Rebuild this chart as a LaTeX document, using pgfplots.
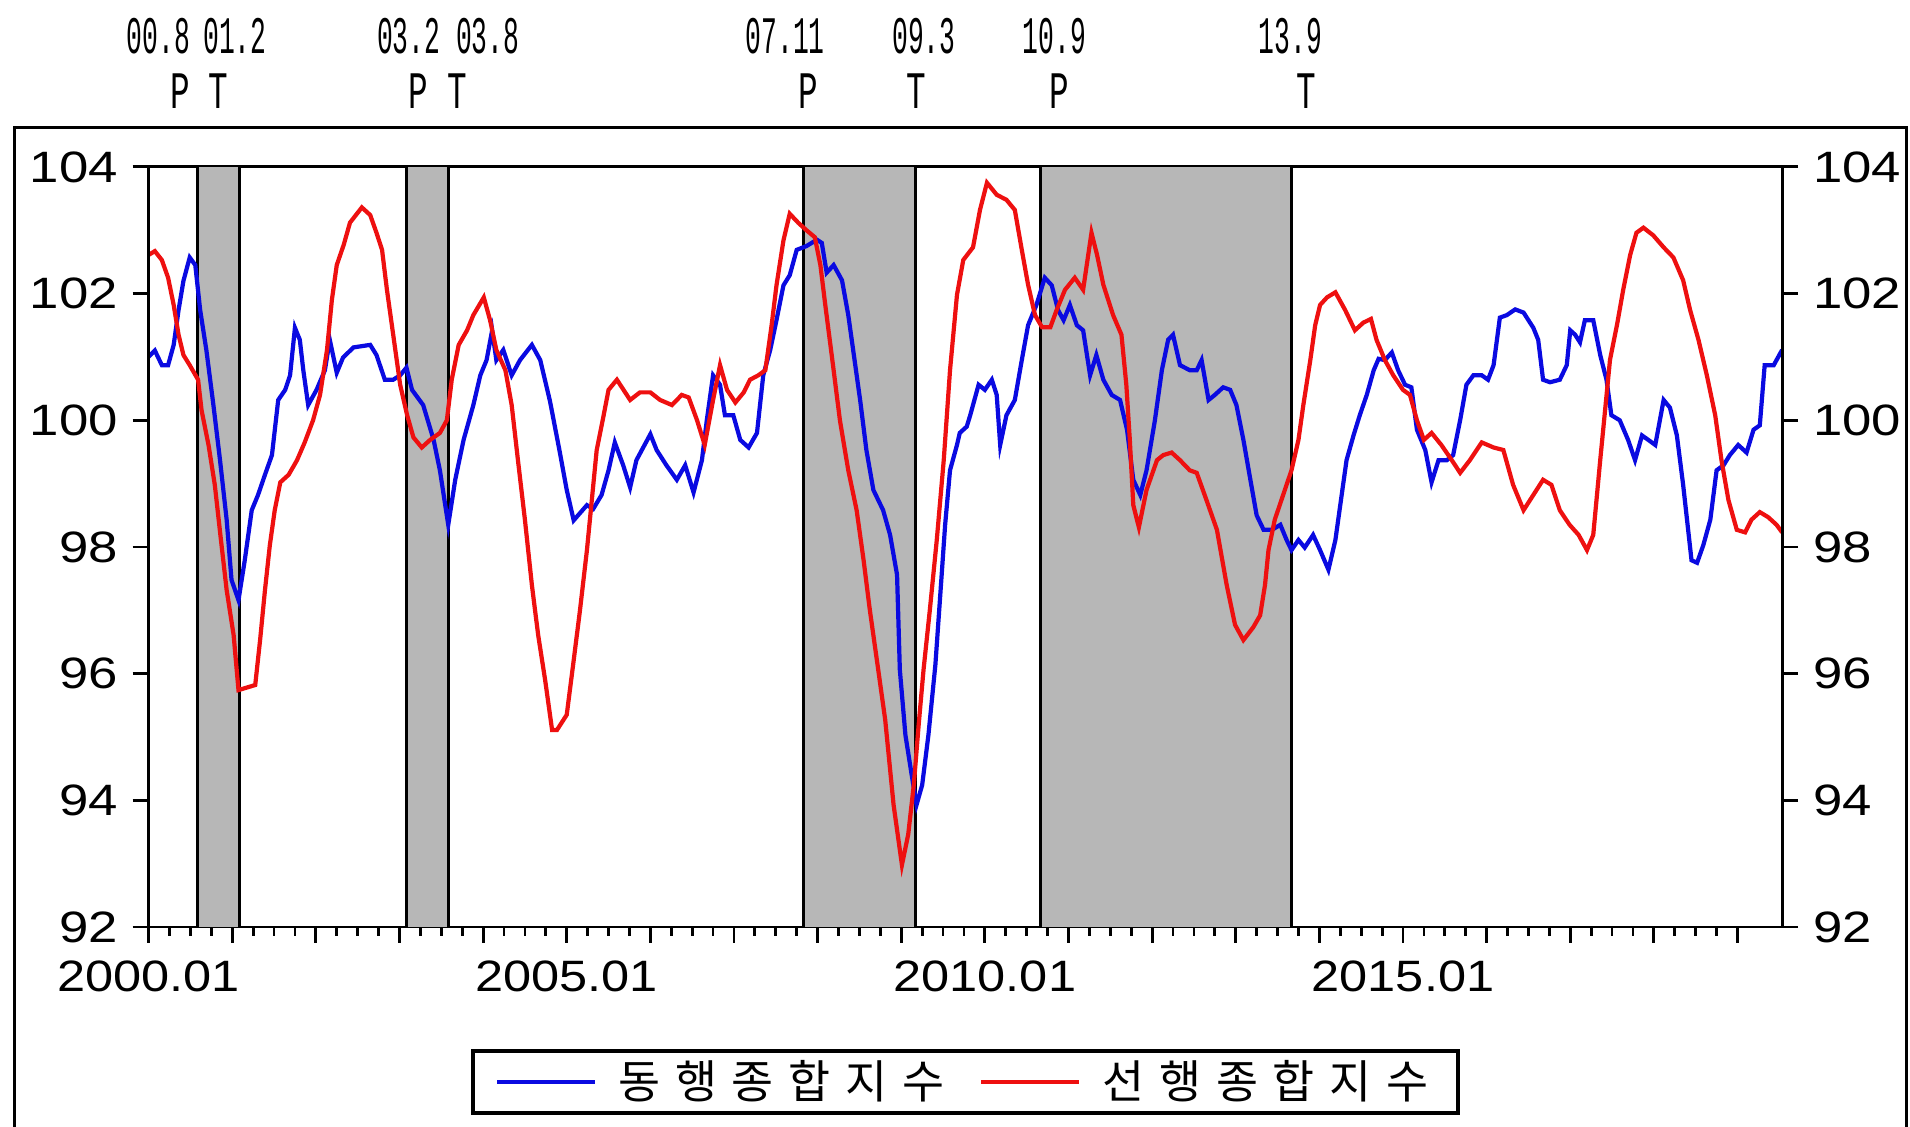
\documentclass[border=0pt]{standalone}
\usepackage{fontspec}
\setmainfont{Liberation Sans}
\newfontfamily\kr{Noto Sans CJK KR}
\newfontfamily\cour{Liberation Mono}
\usepackage{pgfplots}
\pgfplotsset{compat=1.18}
\definecolor{shade}{RGB}{183,183,183}
\definecolor{lblue}{RGB}{10,10,225}
\definecolor{lred}{RGB}{238,16,16}
\newcommand\lsp{\hspace{4.2pt}}
\pgfplotstableread{
x y
0 101.0
0.9 101.1
1.9 100.87
2.8 100.87
3.6 101.19
4.3 101.74
5 102.2
5.9 102.57
6.7 102.45
7.4 101.74
8.3 101.1
9.3 100.24
10.25 99.37
11.2 98.43
11.9 97.48
12.9 97.16
13.8 97.79
14.8 98.58
15.7 98.82
16.7 99.14
17.7 99.45
18.6 100.32
19.6 100.48
20.3 100.71
21 101.46
21.7 101.27
22.2 100.79
22.9 100.24
24.1 100.48
25.3 100.79
26 101.27
27 100.75
27.9 100.99
29.4 101.15
31.8 101.19
32.7 101.03
33.9 100.64
35.1 100.64
36.1 100.71
37 100.83
37.8 100.48
39.4 100.24
40.9 99.69
41.8 99.21
43 98.35
44 99.06
45.2 99.69
46.6 100.24
47.6 100.71
48.5 100.95
49.3 101.42
49.9 100.95
50.9 101.11
52.1 100.71
53.3 100.95
55 101.19
56.2 100.95
57.6 100.3
59 99.5
60 98.9
61 98.42
62.9 98.66
63.8 98.6
65 98.82
66 99.21
66.9 99.65
68.1 99.29
69.1 98.94
70 99.37
72 99.78
72.9 99.53
74.3 99.29
75.8 99.06
77 99.29
78.2 98.86
79.4 99.37
80.1 100.0
81 100.71
82 100.56
82.7 100.08
83.9 100.08
84.9 99.69
86.1 99.57
87.3 99.8
88.2 100.71
89.2 101.11
90.1 101.58
91.1 102.13
92 102.29
93 102.69
94.4 102.75
95.9 102.85
96.6 102.8
97.3 102.33
98.3 102.45
99.5 102.21
100.4 101.66
101.1 101.11
102.1 100.32
103 99.53
104 98.9
105.4 98.58
106.4 98.19
107.4 97.56
107.8 96.06
108.6 95.03
109.5 94.4
110.2 93.93
111 94.24
111.9 95.03
112.9 96.14
113.6 97.24
114.3 98.35
115 99.21
116 99.61
116.4 99.8
117.4 99.9
117.9 100.08
119.1 100.56
120 100.48
121 100.64
121.7 100.4
122.2 99.61
123.1 100.08
124.3 100.32
125.3 100.95
126.2 101.5
127.4 101.82
128.6 102.25
129.6 102.13
130.5 101.74
131.3 101.58
132.2 101.82
133.2 101.5
134.1 101.42
135.1 100.71
136 101.03
137 100.64
138.2 100.4
139.4 100.32
140.4 99.85
141.3 99.06
142.3 98.82
143.2 99.21
144.4 100.0
145.4 100.79
146.3 101.27
147 101.35
148 100.87
149.4 100.79
150.4 100.79
151.1 100.95
152.1 100.32
153 100.4
154.2 100.52
155.2 100.48
156.1 100.24
157.1 99.69
158.1 99.06
159 98.5
160 98.27
161.2 98.27
162.4 98.35
163.3 98.11
164 97.95
165 98.11
165.9 97.99
167.1 98.19
168.1 97.95
169.3 97.64
170.3 98.11
171.2 98.82
171.9 99.37
172.9 99.76
173.8 100.08
174.8 100.4
175.8 100.79
176.5 100.97
177.4 100.95
178.4 101.07
179.3 100.79
180.3 100.56
181.2 100.52
182 99.85
183.2 99.53
184.1 99.02
185.1 99.37
186.3 99.37
187.2 99.45
188.2 100.0
189.1 100.56
190.1 100.71
191.3 100.71
192.2 100.64
193 100.87
193.9 101.62
194.9 101.66
196.1 101.75
197.3 101.7
198.7 101.46
199.4 101.27
200.1 100.64
201.1 100.6
202.5 100.64
203.5 100.87
204 101.42
204.7 101.35
205.4 101.23
206.1 101.58
207.3 101.58
208.3 101.03
209.2 100.64
209.9 100.08
211.1 100.0
212.3 99.69
213.3 99.37
214.3 99.76
215.2 99.69
216.2 99.61
217.4 100.32
218.3 100.2
219.3 99.76
220.2 98.98
221.4 97.79
222.2 97.75
223.1 98.03
224.1 98.43
225 99.21
226 99.29
226.9 99.45
228.1 99.61
229.3 99.49
230.3 99.85
231.2 99.92
231.9 100.87
233.2 100.87
234.4 101.11
}\coincident
\pgfplotstableread{
x y
0 102.61
0.9 102.67
1.9 102.53
2.8 102.25
3.6 101.82
4.3 101.35
5 101.03
5.9 100.87
7.1 100.64
7.6 100.16
8.6 99.61
9.5 98.98
10.3 98.19
11.2 97.32
12.2 96.61
12.9 95.74
14.1 95.78
15.3 95.82
16 96.53
16.7 97.32
17.4 98.03
18.1 98.58
18.9 99.02
20.1 99.14
21.3 99.37
22.4 99.65
23.6 100.0
24.6 100.4
25.6 101.11
26.3 101.9
27 102.45
28 102.77
28.9 103.12
30.6 103.36
31.8 103.24
32.7 102.96
33.5 102.69
34.2 102.06
35.1 101.35
36.1 100.56
37.1 100.08
38 99.73
39.2 99.57
40.4 99.69
41.8 99.8
42.8 100.0
43.5 100.64
44.5 101.19
45.7 101.42
46.6 101.66
48.1 101.94
49 101.58
49.9 101.11
51.2 100.79
52.1 100.24
53 99.37
54 98.43
55 97.4
55.9 96.61
56.9 95.9
57.9 95.11
58.6 95.11
60 95.35
61 96.21
61.9 97.0
62.9 97.95
63.6 98.74
64.3 99.53
65.3 100.08
66 100.48
67.2 100.64
69.1 100.32
70.5 100.44
72 100.44
73.4 100.32
75.1 100.24
76.5 100.4
77.5 100.36
78.7 100.0
79.8 99.61
81 100.32
82 100.87
83 100.48
84.2 100.28
85.4 100.44
86.3 100.64
87.5 100.71
88.5 100.79
89.4 101.5
90.1 102.13
91.1 102.84
92 103.26
93.2 103.12
94.4 103.0
95.6 102.89
96.4 102.45
97.1 101.82
98.3 100.79
99.2 100.0
100.4 99.21
101.6 98.58
102.6 97.79
103.5 97.0
104.7 96.06
105.7 95.27
106.9 93.93
108.1 92.98
109 93.46
109.8 94.24
110.5 95.19
111.2 96.06
112.1 97.0
113.1 98.11
114.1 99.37
115 100.79
116 101.98
116.9 102.53
118.3 102.73
119.3 103.32
120.3 103.75
121.7 103.56
123.1 103.48
124.3 103.32
125.3 102.69
126.2 102.14
127.2 101.66
128.2 101.47
129.4 101.47
130.3 101.74
131.5 102.06
132.9 102.25
134.1 102.06
135.3 102.96
136.1 102.61
137 102.14
138.4 101.66
139.6 101.35
140.3 100.56
140.8 99.69
141.3 98.66
142.1 98.31
143.2 98.9
144.7 99.37
145.6 99.45
146.8 99.49
148 99.37
149.4 99.21
150.4 99.17
151.8 98.74
153.3 98.27
154.7 97.4
155.9 96.77
157.1 96.53
158.5 96.73
159.5 96.92
160.2 97.4
160.7 97.95
161.6 98.43
162.8 98.82
164 99.21
165 99.69
165.7 100.24
166.7 100.95
167.4 101.5
168.1 101.82
169.1 101.94
170.3 102.02
171.7 101.74
173.1 101.42
174.3 101.54
175.4 101.6
176.2 101.27
177.4 100.95
178.6 100.71
180 100.48
181 100.4
182 100.0
183 99.69
184.1 99.8
185.5 99.61
187 99.37
188.2 99.17
189.6 99.37
191.3 99.65
193 99.57
194.4 99.53
195.8 98.98
197.3 98.58
198.7 98.82
200.1 99.06
201.3 98.98
202.5 98.58
203.9 98.35
205.2 98.19
206.4 97.95
207.3 98.19
208.3 99.37
209 100.16
209.7 100.95
210.7 101.5
211.6 102.06
212.6 102.61
213.5 102.96
214.5 103.04
215.9 102.92
217.4 102.73
218.8 102.57
220.2 102.21
221.2 101.74
222.4 101.27
223.6 100.71
224.8 100.08
225.7 99.37
226.7 98.74
227.9 98.27
229.1 98.23
230 98.43
231.2 98.55
232.4 98.47
233.6 98.35
234.4 98.23
}\leading
\begin{document}
\begin{tikzpicture}
\useasboundingbox (0,0) rectangle (19.10cm,-11.27cm);
\begin{scope}[x=0.01cm,y=0.01cm]
\draw[line width=0.9pt] (14.6,-1200) -- (14.6,-128) -- (1907.6,-128) -- (1907.6,-1200);
\foreach \xx/\lab in {158.3/00.8, 235/01.2, 409/03.2, 488/03.8, 785.6/07.11, 924.5/09.3, 1054.8/10.9, 1291/13.9}
  \node[font=\cour\fontsize{15}{16}\selectfont, xscale=0.5, inner sep=0] at (\xx,-36.5) {\lab};
\foreach \xx/\lab in {180.3/P, 218/T, 419/P, 458/T, 808.8/P, 917/T, 1059.7/P, 1307/T}
  \node[font=\cour\fontsize{15}{16}\selectfont, xscale=0.62, inner sep=0] at (\xx,-91) {\lab};
\end{scope}
\begin{axis}[
  at={(1.486cm,-9.27cm)}, anchor=south west,
  scale only axis, width=16.335cm, height=7.601cm,
  xmin=0, xmax=234.4, ymin=92, ymax=104,
  axis line style={line width=0.8pt},
  every tick/.style={black, line width=0.8pt},
  tick align=outside,
  major tick length=0.16cm, minor tick length=0.09cm,
  xtick={0,12,...,228},
  xticklabels={2000.01,,,,,2005.01,,,,,2010.01,,,,,2015.01,,,,},
  minor x tick num=3,
  xtick pos=bottom,
  ytick={92,94,...,104},
  ytick pos=left,
  /pgf/number format/assume math mode=true,
  xticklabel style={font=\fontsize{12.5}{14}\selectfont, xscale=1.15, yshift=-0.05cm},
  yticklabel style={font=\fontsize{12.5}{14}\selectfont, xscale=1.2},
  legend style={at={(0.5,-0.204)}, anchor=center, legend columns=2, draw=black, line width=1.1pt,
    inner xsep=0.22cm, inner ysep=0.02cm, font=\kr\fontsize{13}{15}\selectfont,
    /tikz/every even column/.append style={column sep=0.28cm},
    /tikz/every odd column/.append style={column sep=0.14cm}},
  legend image code/.code={\draw[#1, line width=1.2pt] (0cm,0cm) -- (0.98cm,0cm);},
]
\addplot[fill=shade, draw=none, forget plot] coordinates {(7,92) (7,104) (13,104) (13,92)} -- cycle;
\addplot[fill=shade, draw=none, forget plot] coordinates {(37,92) (37,104) (43,104) (43,92)} -- cycle;
\addplot[fill=shade, draw=none, forget plot] coordinates {(94,92) (94,104) (110,104) (110,92)} -- cycle;
\addplot[fill=shade, draw=none, forget plot] coordinates {(128,92) (128,104) (164,104) (164,92)} -- cycle;
\addplot[black, line width=0.8pt, forget plot] coordinates {(7,92) (7,104)};
\addplot[black, line width=0.8pt, forget plot] coordinates {(13,92) (13,104)};
\addplot[black, line width=0.8pt, forget plot] coordinates {(37,92) (37,104)};
\addplot[black, line width=0.8pt, forget plot] coordinates {(43,92) (43,104)};
\addplot[black, line width=0.8pt, forget plot] coordinates {(94,92) (94,104)};
\addplot[black, line width=0.8pt, forget plot] coordinates {(110,92) (110,104)};
\addplot[black, line width=0.8pt, forget plot] coordinates {(128,92) (128,104)};
\addplot[black, line width=0.8pt, forget plot] coordinates {(164,92) (164,104)};
\addplot[lblue, line width=1.2pt] table {\coincident};
\addlegendentry{동\lsp 행\lsp 종\lsp 합\lsp 지\lsp 수}
\addplot[lred, line width=1.2pt] table {\leading};
\addlegendentry{선\lsp 행\lsp 종\lsp 합\lsp 지\lsp 수}
\end{axis}
\begin{axis}[
  at={(1.486cm,-9.27cm)}, anchor=south west,
  scale only axis, width=16.335cm, height=7.601cm,
  xmin=0, xmax=234.4, ymin=92, ymax=104,
  hide x axis,
  axis line style={line width=0.8pt},
  every tick/.style={black, line width=0.8pt},
  tick align=outside,
  major tick length=0.16cm,
  ytick={92,94,...,104},
  ytick pos=right, yticklabel pos=right,
  /pgf/number format/assume math mode=true,
  yticklabel style={font=\fontsize{12.5}{14}\selectfont, xscale=1.2},
]
\addplot[draw=none] coordinates {(0,92) (1,92)};
\end{axis}
\end{tikzpicture}
\end{document}
